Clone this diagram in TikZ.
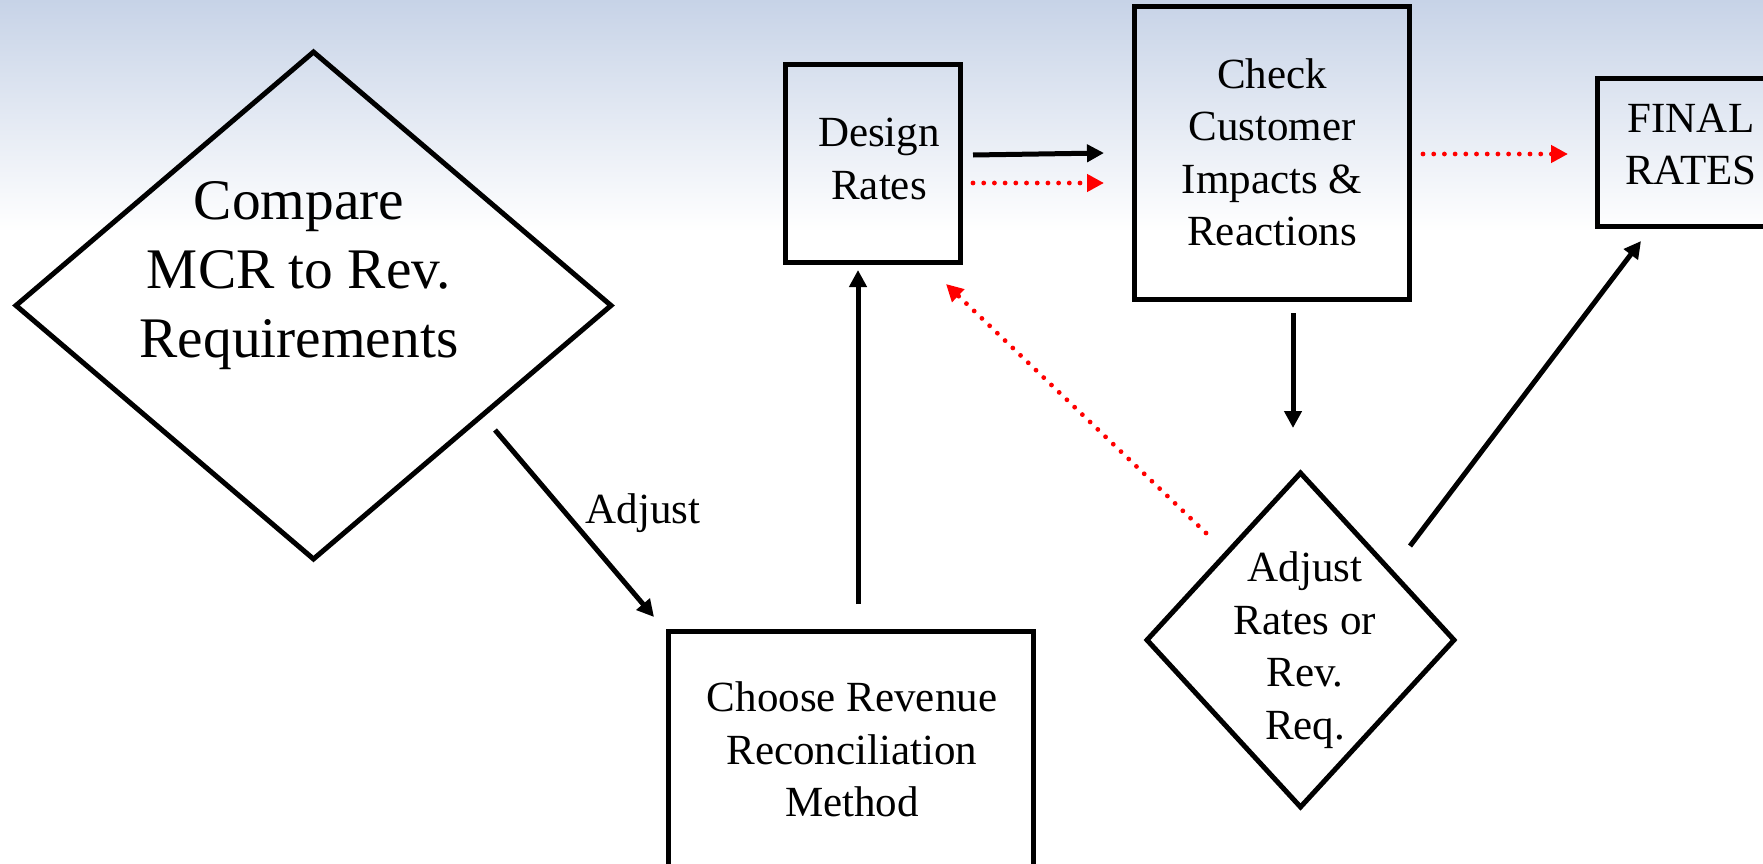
\documentclass[tikz,border=0pt]{standalone}
\usepackage{fontspec}
\setmainfont{Liberation Serif}
\usetikzlibrary{shapes.geometric,arrows.meta}
\definecolor{bgtop}{RGB}{199,211,231}
\begin{document}
\begin{tikzpicture}[x=1pt,y=-1pt,
  shp/.style={draw=black,line width=5pt,inner sep=0pt,outer sep=0pt},
  box/.style={shp,rectangle},
  dia/.style={shp,diamond},
  bigtxt/.style={font=\fontsize{57.4}{69}\selectfont,align=center,inner sep=0pt},
  txt/.style={font=\fontsize{43}{52.5}\selectfont,align=center,inner sep=0pt},
  blk/.style={draw=black,line width=5pt,-{Triangle[length=17pt,width=17pt]}},
  rdot/.style={draw=red,line width=4.8pt,dash pattern=on 0pt off 10.7pt,line cap=round,-{Triangle[length=17pt,width=17pt]}}
]
\useasboundingbox (0,0) rectangle (1763,864);
\clip (0,0) rectangle (1763,864);
\fill[white] (0,0) rectangle (1763,864);
\shade[top color=bgtop,bottom color=white] (0,0) rectangle (1763,232);

% shapes
\node[dia,minimum width=595pt,minimum height=507pt] (cmp) at (313.5,305.5) {};
\node[box,minimum width=175pt,minimum height=197pt] (des) at (872.5,163.5) {};
\node[box,minimum width=275pt,minimum height=292pt] (chk) at (1271.5,153) {};
\node[box,minimum width=250pt,minimum height=147pt] (fin) at (1722,152.5) {};
\node[box,minimum width=365pt,minimum height=260pt] (cho) at (850.5,761) {};
\node[dia,minimum width=307pt,minimum height=334pt] (adj) at (1300.5,640) {};

% texts
\node[bigtxt] (cmpt) at (299,276) {Compare\\MCR to Rev.\\Requirements};
\node[txt] (dest) at (879,159) {Design\\Rates};
\node[txt] (chkt) at (1272,152.5) {Check\\Customer\\Impacts \&\\Reactions};
\node[txt] (fint) at (1691,144.5) {FINAL\\RATES};
\node[txt] (chot) at (852,749.5) {Choose Revenue\\Reconciliation\\Method};
\node[txt] (adjt) at (1305,650) {Adjust\\Rates or\\Rev.\\Req.};
\node[txt] (lab) at (643,513) {Adjust};

% connector ends
\coordinate (c1a) at (495,430);  \coordinate (c1b) at (654,617);
\coordinate (c2a) at (858,604);  \coordinate (c2b) at (858,270);
\coordinate (c3a) at (973,155);  \coordinate (c3b) at (1104,153);
\coordinate (c4a) at (973,183);  \coordinate (c4b) at (1104,183);
\coordinate (c5a) at (1423,154); \coordinate (c5b) at (1568,154);
\coordinate (c6a) at (1293,313); \coordinate (c6b) at (1293,428);
\coordinate (c7a) at (1206,533); \coordinate (c7b) at (946,284);
\coordinate (c8a) at (1410,546); \coordinate (c8b) at (1641,241);

\draw[blk] (c1a) -- (c1b);
\draw[blk] (c2a) -- (c2b);
\draw[blk] (c3a) -- (c3b);
\draw[rdot] (c4a) -- (c4b);
\draw[rdot] (c5a) -- (c5b);
\draw[blk] (c6a) -- (c6b);
\draw[rdot] (c7a) -- (c7b);
\draw[blk] (c8a) -- (c8b);
\end{tikzpicture}
\end{document}
